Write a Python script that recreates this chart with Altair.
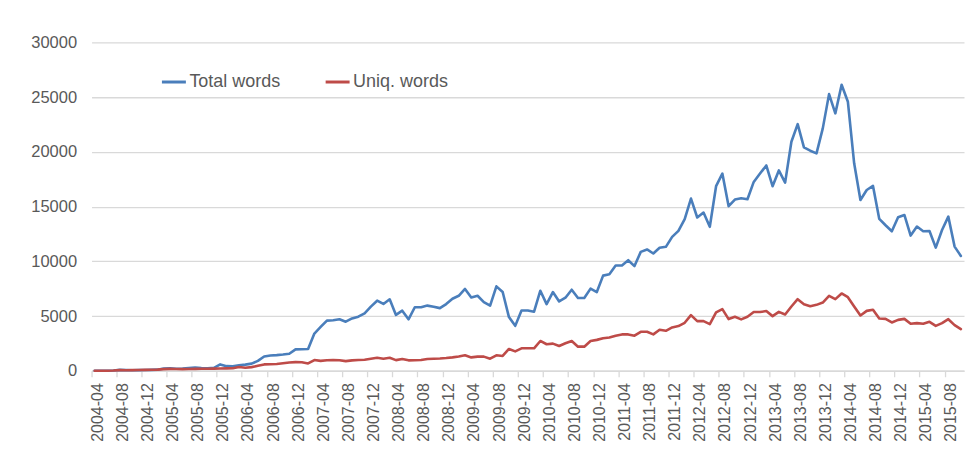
import altair as alt
import pandas as pd

# Monthly categories 2004-04 .. 2015-10
start_year, start_month, n_months = 2004, 4, 139
months = [f"{start_year + (start_month - 1 + i) // 12}-{(start_month - 1 + i) % 12 + 1:02d}"
          for i in range(n_months)]
tick_labels = months[::4]

total_words = [
    0, 0, 0, 30, 80, 60, 50, 60, 70, 80,
    100, 200, 230, 180, 200, 250, 300, 250, 230, 270,
    580, 420, 400, 500, 560, 650, 900, 1300, 1400, 1430,
    1480, 1550, 1950, 1960, 1980, 3400, 4000, 4580, 4620, 4700,
    4480, 4780, 4940, 5250, 5860, 6400, 6100, 6530, 5100, 5490,
    4700, 5800, 5800, 5950, 5850, 5720, 6090, 6580, 6850, 7470,
    6700, 6850, 6270, 5940, 7710, 7190, 4900, 4100, 5510, 5510,
    5390, 7310, 6090, 7190, 6330, 6670, 7400, 6640, 6640, 7500,
    7190, 8690, 8820, 9620, 9620, 10100, 9560, 10860, 11080, 10710,
    11230, 11320, 12230, 12780, 13850, 15730, 14000, 14450, 13150, 16860,
    18010, 15030, 15640, 15760, 15670, 17250, 18010, 18750, 16860, 18300,
    17180, 20920, 22530, 20400, 20100, 19860, 22140, 25270, 23510, 26120,
    24570, 18950, 15600, 16510, 16880, 13870, 13290, 12740, 14020, 14230,
    12350, 13170, 12740, 12770, 11250, 12860, 14080, 11340, 10490,
]

uniq_words = [
    0, 0, 0, 20, 60, 50, 60, 70, 80, 90,
    100, 150, 170, 160, 150, 160, 170, 180, 180, 190,
    200, 220, 230, 350, 280, 330, 450, 580, 600, 620,
    680, 750, 790, 770, 670, 980, 900, 960, 970, 960,
    880, 950, 980, 1000, 1100, 1190, 1100, 1190, 970, 1070,
    950, 960, 980, 1080, 1100, 1120, 1160, 1220, 1300, 1410,
    1220, 1290, 1290, 1100, 1410, 1350, 1990, 1770, 2050, 2050,
    2050, 2720, 2420, 2480, 2260, 2510, 2720, 2200, 2200, 2720,
    2820, 2970, 3040, 3200, 3320, 3320, 3200, 3560, 3560, 3320,
    3740, 3650, 3960, 4080, 4380, 5080, 4530, 4530, 4260, 5330,
    5630, 4720, 4930, 4690, 4930, 5360, 5360, 5450, 4990, 5380,
    5140, 5870, 6540, 6080, 5900, 6020, 6230, 6840, 6540, 7060,
    6720, 5870, 5050, 5470, 5570, 4770, 4740, 4410, 4650, 4740,
    4290, 4350, 4290, 4470, 4100, 4350, 4710, 4170, 3800,
]

series_names = ["Total words", "Uniq. words"]
series_colors = ["#4A7EBB", "#BE4B48"]
y_ticks = [0, 5000, 10000, 15000, 20000, 25000, 30000]

df = pd.DataFrame({
    "month": months * 2,
    "series": [series_names[0]] * n_months + [series_names[1]] * n_months,
    "value": total_words + uniq_words,
})

FONT = "Liberation Sans"
TXT = "#595959"
GRID = "#D9D9D9"

chart = alt.Chart(df).mark_line(
    strokeWidth=2.6, strokeJoin="round", strokeCap="round"
).encode(
    x=alt.X(
        "month:O",
        sort=months,
        bandPosition=0.5,
        scale=alt.Scale(type="band", paddingInner=0, paddingOuter=0),
        axis=alt.Axis(
            values=tick_labels, title=None, grid=False,
            labelAngle=270, bandPosition=0, labelOffset=3.14,
            tickSize=6, tickColor=GRID, tickWidth=1.3,
            domainColor=GRID, domainWidth=1.3,
            labelPadding=6, labelFontSize=16, labelFont=FONT, labelColor=TXT,
        ),
    ),
    y=alt.Y(
        "value:Q",
        scale=alt.Scale(domain=[0, 30000]),
        axis=alt.Axis(
            values=y_ticks, format="d", title=None, domain=False, ticks=False,
            labelPadding=15, labelFontSize=16.5, labelFont=FONT, labelColor=TXT,
            gridColor=GRID, gridWidth=1.3,
        ),
    ),
    color=alt.Color(
        "series:N",
        scale=alt.Scale(domain=series_names, range=series_colors),
        legend=alt.Legend(
            title=None, orient="none", legendX=69, legendY=26,
            direction="horizontal", symbolType="stroke", symbolSize=576,
            symbolStrokeWidth=3, labelFontSize=18, labelFont=FONT,
            labelColor=TXT, labelOffset=2, columnPadding=38, padding=0,
        ),
    ),
).properties(
    width=874,
    height=329,
    autosize=alt.AutoSizeParams(type="none"),
    padding={"left": 83.7, "top": 34, "right": 4, "bottom": 80},
).configure_view(strokeWidth=0)

chart.save("out.html", embed_options={"renderer": "svg", "actions": False})
